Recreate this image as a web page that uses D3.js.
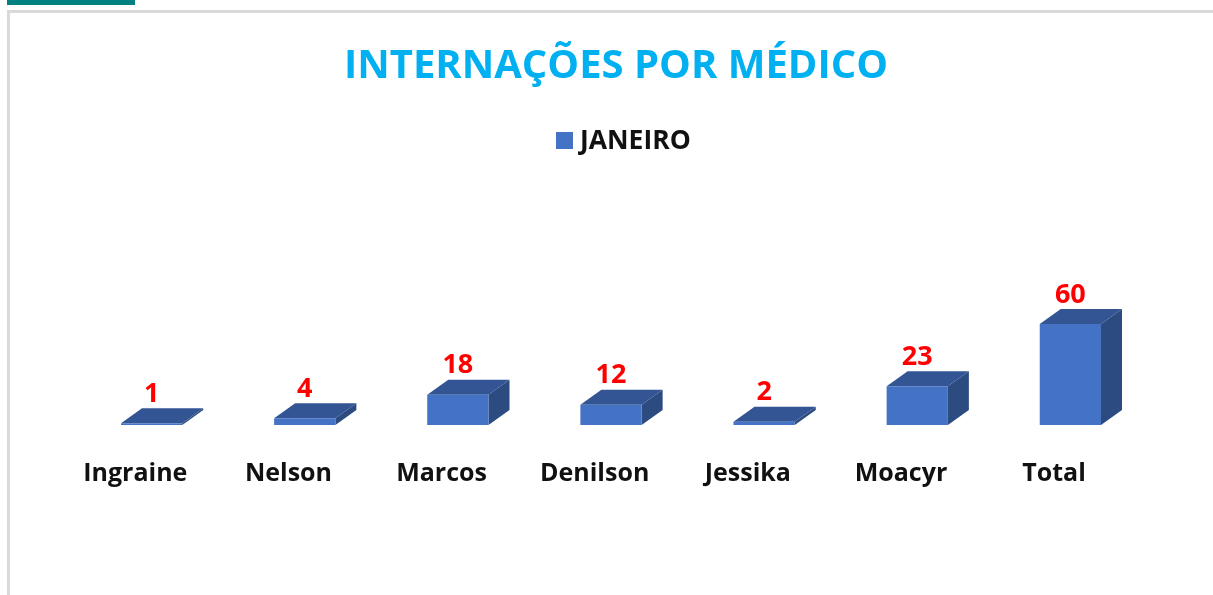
<!DOCTYPE html>
<html><head><meta charset="utf-8">
<script src="https://cdn.jsdelivr.net/npm/d3@7"></script>
<style>html,body{margin:0;padding:0;background:#fff;overflow:hidden}svg{display:block;filter:blur(0.45px)}text{font-family:"Open Sans",sans-serif;font-weight:700}</style>
</head><body><svg id="c" width="1213" height="595"></svg>
<script>
const titleText = "INTERNAÇÕES POR MÉDICO";
const seriesName = "JANEIRO";
const categories = ["Ingraine","Nelson","Marcos","Denilson","Jessika","Moacyr","Total"];
const values = [1,4,18,12,2,23,60];

const svg = d3.select("#c");
const baseY = 425, depthX = 21, depthY = 15;
const x = d3.scaleBand().domain(categories).range([121,1101]).paddingInner(0.6).paddingOuter(0);
const y = d3.scaleLinear().domain([0,60]).range([baseY,324]);

// page furniture
svg.append("rect").attr("x",7).attr("y",0).attr("width",128).attr("height",5).attr("fill","#008080");
svg.append("rect").attr("x",7).attr("y",10).attr("width",1206).attr("height",3).attr("fill","#D9D9D9");
svg.append("rect").attr("x",7).attr("y",10).attr("width",3).attr("height",585).attr("fill","#D9D9D9");

svg.append("text").attr("x",616).attr("y",78).attr("text-anchor","middle")
  .attr("font-size",40).attr("fill","#00B0F0").text(titleText);

svg.append("rect").attr("x",556).attr("y",132).attr("width",17).attr("height",17).attr("fill","#4472C4");
svg.append("text").attr("x",580).attr("y",148.5).attr("font-size",26.5).attr("fill","#111").text(seriesName);

const bars = svg.append("g").selectAll("g").data(categories.map((c,i)=>({c,v:values[i]}))).join("g");
const poly = d => d.map(p=>p.join(",")).join(" ");
bars.append("polygon").attr("fill","#2C4B80").attr("points",d=>{
  const r=x(d.c)+x.bandwidth(), t=y(d.v);
  return poly([[r,baseY],[r+depthX,baseY-depthY],[r+depthX,t-depthY],[r,t]]);
});
bars.append("polygon").attr("fill","#335593").attr("points",d=>{
  const l=x(d.c), r=l+x.bandwidth(), t=y(d.v);
  return poly([[l,t],[l+depthX,t-depthY],[r+depthX,t-depthY],[r,t]]);
});
bars.append("rect").attr("fill","#4472C4")
  .attr("x",d=>x(d.c)).attr("width",x.bandwidth())
  .attr("y",d=>y(d.v)).attr("height",d=>baseY-y(d.v));
bars.append("text").attr("text-anchor","middle").attr("font-size",27).attr("fill","#FF0000")
  .attr("x",d=>x(d.c)+x.bandwidth()/2)
  .attr("y",d=>y(d.v)-depthY-6.5).text(d=>d.v);
bars.append("text").attr("text-anchor","middle").attr("font-size",25).attr("fill","#111")
  .attr("x",d=>x(d.c)+x.bandwidth()/2-16.3)
  .attr("y",481).text(d=>d.c);
</script></body></html>
